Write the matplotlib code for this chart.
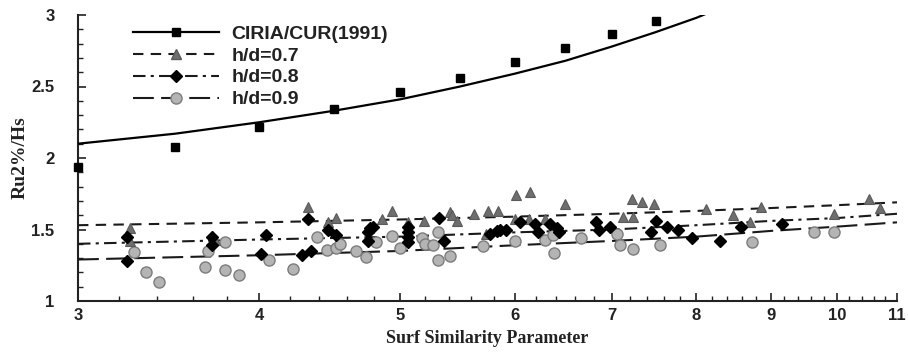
import numpy as np
import matplotlib
matplotlib.use("Agg")
import matplotlib.pyplot as plt
from matplotlib.ticker import FixedLocator, NullFormatter

# CIRIA/CUR (1991) points and the curve drawn through them
ciria_x = [3.0, 3.5, 4.0, 4.5, 5.0, 5.5, 6.0, 6.5, 7.0, 7.5]
ciria_y = [1.94, 2.08, 2.22, 2.34, 2.46, 2.56, 2.67, 2.77, 2.87, 2.96]
ciria_curve_x = [3.0, 3.5, 4.0, 4.5, 5.0, 5.5, 6.0, 6.5, 7.0, 7.5, 8.0, 8.5]
ciria_curve_y = [2.10, 2.17, 2.25, 2.33, 2.41, 2.50, 2.59, 2.68, 2.78, 2.88, 2.98, 3.09]

# h/d = 0.7
hd07_x = [3.26, 3.26, 3.73, 4.32, 4.46, 4.52, 4.86, 4.94, 5.06, 5.19, 5.41, 5.43,
          5.47, 5.62, 5.73, 5.75, 5.84, 6.01, 6.00, 6.14, 6.15, 6.29, 6.50, 7.12,
          7.24, 7.23, 7.34, 7.48, 8.13, 8.48, 8.71, 8.86, 9.96, 10.53, 10.71]
hd07_y = [1.51, 1.42, 1.43, 1.66, 1.55, 1.58, 1.57, 1.63, 1.55, 1.56, 1.62, 1.60,
          1.56, 1.61, 1.47, 1.63, 1.63, 1.74, 1.57, 1.57, 1.76, 1.57, 1.68, 1.59,
          1.59, 1.71, 1.69, 1.68, 1.64, 1.60, 1.55, 1.66, 1.61, 1.71, 1.65]

# h/d = 0.8
hd08_x = [3.24, 3.24, 3.71, 3.71, 4.01, 4.04, 4.28, 4.34, 4.32, 4.46, 4.52, 4.75,
          4.77, 4.79, 4.75, 5.06, 5.06, 5.06, 5.06, 5.32, 5.36, 5.77, 5.83, 5.86,
          5.92, 6.05, 6.19, 6.22, 6.34, 6.41, 6.43, 6.82, 6.86, 6.98, 7.45, 7.50,
          7.64, 7.77, 7.95, 8.31, 8.59, 9.17]
hd08_y = [1.45, 1.28, 1.445, 1.39, 1.33, 1.46, 1.32, 1.35, 1.57, 1.50, 1.46, 1.485,
          1.51, 1.52, 1.42, 1.52, 1.485, 1.45, 1.415, 1.58, 1.42, 1.47, 1.49, 1.50,
          1.50, 1.55, 1.54, 1.48, 1.54, 1.51, 1.485, 1.55, 1.50, 1.52, 1.48, 1.56,
          1.52, 1.50, 1.44, 1.42, 1.52, 1.54]

# h/d = 0.9
hd09_x = [3.28, 3.34, 3.41, 3.67, 3.69, 3.79, 3.79, 3.87, 4.06, 4.22, 4.385, 4.45,
          4.52, 4.545, 4.66, 4.74, 4.81, 4.94, 5.00, 5.18, 5.20, 5.27, 5.31, 5.31,
          5.41, 5.70, 6.00, 6.29, 6.37, 6.38, 6.66, 7.05, 7.09, 7.24, 7.55, 8.74,
          9.65, 9.95]
hd09_y = [1.34, 1.20, 1.135, 1.235, 1.35, 1.415, 1.22, 1.185, 1.29, 1.225, 1.45, 1.36,
          1.37, 1.40, 1.35, 1.31, 1.415, 1.455, 1.37, 1.44, 1.40, 1.39, 1.48, 1.29,
          1.315, 1.385, 1.42, 1.43, 1.46, 1.335, 1.44, 1.47, 1.39, 1.365, 1.39, 1.41,
          1.48, 1.48]

# trend lines
trend_x = [3, 4, 5, 6, 7, 8, 9, 10, 11]
trend07_y = [1.53, 1.55, 1.57, 1.59, 1.61, 1.63, 1.65, 1.67, 1.69]
trend08_y = [1.40, 1.43, 1.45, 1.48, 1.50, 1.53, 1.56, 1.58, 1.61]
trend09_y = [1.29, 1.32, 1.35, 1.39, 1.42, 1.45, 1.49, 1.52, 1.55]

x_ticks = [3, 4, 5, 6, 7, 8, 9, 10, 11]
y_ticks = [1, 1.5, 2, 2.5, 3]
y_labels = ["1", "1.5", "2", "2.5", "3"]

sans = "Liberation Sans"
serif = "Liberation Serif"

fig = plt.figure(figsize=(9.08, 3.54), dpi=100)
ax = fig.add_axes([78 / 908, 53 / 354, 819 / 908, 286 / 354])
ax.set_xscale("log")

lc = "#1a1a1a"
ax.plot(ciria_curve_x, ciria_curve_y, color="black", lw=1.6, zorder=3)
ax.plot(trend_x, trend07_y, color=lc, lw=1.5, dashes=(5, 3.5), zorder=3)
ax.plot(trend_x, trend08_y, color=lc, lw=1.5, dashes=(6, 2.5, 1.5, 2.5), zorder=3)
ax.plot(trend_x, trend09_y, color=lc, lw=1.5, dashes=(10, 3.5), zorder=3)

ax.plot(hd09_x, hd09_y, "o", ms=8, mfc="#b4b4b4", mec="#7c7c7c", mew=1.0,
        zorder=4, clip_on=False)
ax.plot(hd07_x, hd07_y, "^", ms=7.5, mfc="#6e6e6e", mec="#5a5a5a", mew=0.8,
        zorder=5, clip_on=False)
ax.plot(hd08_x, hd08_y, "D", ms=6, mfc="black", mec="black", zorder=6,
        clip_on=False)
ax.plot(ciria_x, ciria_y, "s", ms=5.5, mfc="black", mec="black", zorder=6,
        clip_on=False)

# legend proxies
h1, = ax.plot([], [], color="black", lw=1.6, marker="s", ms=5.5, mfc="black", mec="black")
h2, = ax.plot([], [], color=lc, lw=1.5, dashes=(5, 3.5), marker="^", ms=7.5,
              mfc="#6e6e6e", mec="#5a5a5a")
h3, = ax.plot([], [], color=lc, lw=1.5, dashes=(6, 2.5, 1.5, 2.5), marker="D", ms=6,
              mfc="black", mec="black")
h4, = ax.plot([], [], color=lc, lw=1.5, dashes=(10, 3.5), marker="o", ms=8,
              mfc="#b4b4b4", mec="#7c7c7c")
leg = ax.legend([h1, h2, h3, h4], ["CIRIA/CUR(1991)", "h/d=0.7", "h/d=0.8", "h/d=0.9"],
                loc="upper left", bbox_to_anchor=(0.046, 1.026), frameon=False,
                numpoints=1, handlelength=4.4, handletextpad=0.65, labelspacing=0.22,
                borderpad=0.4, prop={"family": sans, "weight": "bold", "size": 14})
for t in leg.get_texts():
    t.set_color("#222222")

ax.set_xlim(3, 11)
ax.set_ylim(1, 3)
ax.xaxis.set_major_locator(FixedLocator(x_ticks))
ax.set_xticklabels([str(v) for v in x_ticks])
ax.xaxis.set_minor_locator(FixedLocator(np.arange(3.2, 11, 0.2)))
ax.xaxis.set_minor_formatter(NullFormatter())
ax.set_yticks(y_ticks)
ax.set_yticklabels(y_labels)
ax.yaxis.set_minor_locator(FixedLocator(np.arange(1.1, 3.0, 0.1)))

for s in ["top", "right"]:
    ax.spines[s].set_visible(False)
for s in ["left", "bottom"]:
    ax.spines[s].set_color("#222222")
    ax.spines[s].set_linewidth(1.5)

ax.tick_params(axis="both", which="major", direction="in", length=6, width=1.2,
               colors="#222222")
ax.tick_params(axis="both", which="minor", direction="in", length=3.5, width=1.0,
               colors="#222222")
ax.tick_params(axis="x", which="major", pad=5)
ax.tick_params(axis="y", which="major", pad=17)
for lab in ax.get_xticklabels() + ax.get_yticklabels():
    lab.set_fontfamily(sans)
    lab.set_fontweight("bold")
    lab.set_fontsize(12)
    lab.set_color("#222222")

ax.set_xlabel("Surf Similarity Parameter", fontfamily=serif, fontweight="bold",
              fontsize=13, labelpad=5, color="#222222")
ax.set_ylabel("Ru2%/Hs", fontfamily=serif, fontweight="bold", fontsize=14,
              labelpad=2, color="#222222")

fig.savefig("out.png", dpi=100)
